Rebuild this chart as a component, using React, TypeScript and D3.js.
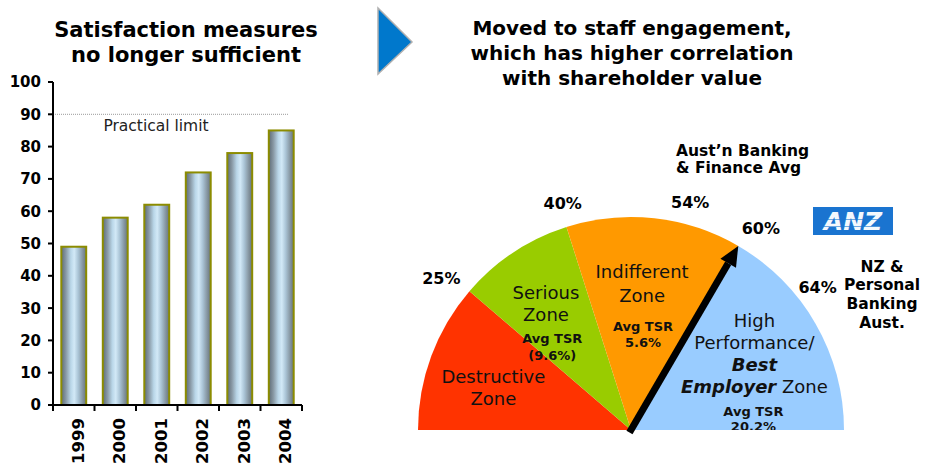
import React from "react";
import * as d3 from "d3";

const years = ["1999", "2000", "2001", "2002", "2003", "2004"];
const scores = [49, 58, 62, 72, 78, 85];
const yTicks = [0, 10, 20, 30, 40, 50, 60, 70, 80, 90, 100];
const practicalLimit = 90;

const zoneBounds = [0, 0.226, 0.402, 0.668, 1];
const zoneColors = ["#FF3300", "#99CC00", "#FF9900", "#99CCFF"];
const percentLabels = [
  { text: "25%", pos: 0.215, r: 243 },
  { text: "40%", pos: 0.407, r: 237 },
  { text: "54%", pos: 0.581, r: 235 },
  { text: "60%", pos: 0.682, r: 240 },
  { text: "64%", pos: 0.792, r: 235 },
];
const anzPosition = 0.668;

const FONT = "DejaVu Sans, Verdana, sans-serif";

export default function App() {
  // ---------- bar chart ----------
  const x = d3.scaleBand<string>().domain(years).range([53, 302]).paddingInner(0.4).paddingOuter(0.2);
  const y = d3.scaleLinear().domain([0, 100]).range([405, 82]);
  const bw = x.bandwidth();
  const step = x.step();

  // ---------- gauge ----------
  const cx = 631, cy = 430, R = 213;
  const ang = d3.scaleLinear().domain([0, 1]).range([-Math.PI / 2, Math.PI / 2]);
  const arc = d3.arc<any>().innerRadius(0).outerRadius(R);
  const polar = (f: number, r: number) => {
    const a = ang(f);
    return [cx + r * Math.sin(a), cy - r * Math.cos(a)];
  };

  const [tx, ty] = polar(anzPosition, R);
  const dx = (tx - cx) / R, dy = (ty - cy) / R;
  const headLen = 20, headHalf = 9;
  const sx = cx - 3 * dx, sy = cy - 3 * dy;
  const bx = tx - headLen * dx, by = ty - headLen * dy;
  const px = -dy, py = dx;

  const zoneText = (f: number, r: number) => polar(f, r);

  const [dX, dY] = zoneText(0.095, 144);
  const [sX, sY] = zoneText(0.311, 152);
  const [s2X, s2Y] = zoneText(0.26, 115);
  const [iX, iY] = zoneText(0.524, 147);
  const [i2X, i2Y] = zoneText(0.54, 96);
  const [hX, hY] = zoneText(0.824, 145);
  const [h2X, h2Y] = zoneText(0.969, 123);

  return (
    <svg width={930} height={463} style={{ position: "absolute", left: 0, top: 0, background: "#fff" }} fontFamily={FONT}>
      <defs>
        <linearGradient id="cyl" x1="0" x2="1" y1="0" y2="0">
          <stop offset="0%" stopColor="#5d6c77" />
          <stop offset="18%" stopColor="#8797a3" />
          <stop offset="38%" stopColor="#b9d6e8" />
          <stop offset="52%" stopColor="#d2e9f7" />
          <stop offset="68%" stopColor="#aac4d6" />
          <stop offset="86%" stopColor="#8595a0" />
          <stop offset="100%" stopColor="#66747e" />
        </linearGradient>
        <clipPath id="gclip">
          <rect x={0} y={0} width={930} height={cy} />
        </clipPath>
      </defs>

      {/* left title */}
      <text x={186} y={37} textAnchor="middle" fontSize={21} fontWeight="bold">Satisfaction measures</text>
      <text x={186} y={62} textAnchor="middle" fontSize={21} fontWeight="bold">no longer sufficient</text>

      {/* practical limit */}
      <line x1={55} x2={288} y1={y(practicalLimit)} y2={y(practicalLimit)} stroke="#9a9a9a" strokeWidth={1} strokeDasharray="1,1" />
      <text x={156} y={131} textAnchor="middle" fontSize={15.5} fill="#222">Practical limit</text>

      {/* bars */}
      {years.map((yr, i) => (
        <rect key={yr} x={x(yr)!} y={y(scores[i])} width={bw} height={y(0) - y(scores[i])}
          fill="url(#cyl)" stroke="#8c8c00" strokeWidth={2} />
      ))}

      {/* y axis */}
      <line x1={53} x2={53} y1={y(100)} y2={y(0)} stroke="#000" strokeWidth={2} />
      {yTicks.map((t) => (
        <g key={t}>
          <line x1={48} x2={53} y1={y(t)} y2={y(t)} stroke="#000" strokeWidth={2} />
          <text x={41} y={y(t)} dy="0.36em" textAnchor="end" fontSize={15} fontWeight="bold">{t}</text>
        </g>
      ))}

      {/* x axis */}
      <line x1={53} x2={302} y1={y(0)} y2={y(0)} stroke="#000" strokeWidth={2} />
      {d3.range(years.length + 1).map((k) => {
        const xx = 53 + k * step;
        return <line key={k} x1={xx} x2={xx} y1={y(0)} y2={y(0) + 6} stroke="#000" strokeWidth={2} />;
      })}
      {years.map((yr) => {
        const xc = x(yr)! + bw / 2 + 4;
        return (
          <text key={yr} transform={`translate(${xc},418) rotate(-90)`} textAnchor="end" dy="0.36em"
            fontSize={16.5} fontWeight="bold">{yr}</text>
        );
      })}

      {/* blue arrow */}
      <polygon points="378,8 412,42 378,74" fill="#0078CC" stroke="#b0b0b0" strokeWidth={1.5} />

      {/* right title */}
      <text x={632} y={35} textAnchor="middle" fontSize={20} fontWeight="bold">Moved to staff engagement,</text>
      <text x={632} y={60} textAnchor="middle" fontSize={20} fontWeight="bold">which has higher correlation</text>
      <text x={632} y={85} textAnchor="middle" fontSize={20} fontWeight="bold">with shareholder value</text>

      {/* gauge zones */}
      <g transform={`translate(${cx},${cy})`}>
        {zoneColors.map((c, i) => (
          <path key={i} d={arc({ startAngle: ang(zoneBounds[i]), endAngle: ang(zoneBounds[i + 1]) })!} fill={c} />
        ))}
      </g>

      {/* percent labels */}
      {percentLabels.map((p) => {
        const [lx, ly] = polar(p.pos, p.r);
        return (
          <text key={p.text} x={lx} y={ly} dy="0.36em" textAnchor="middle" fontSize={16} fontWeight="bold">{p.text}</text>
        );
      })}

      {/* zone labels */}
      <g fontSize={18} textAnchor="middle" fill="#111">
        <text x={dX} y={dY - 11} dy="0.36em">Destructive</text>
        <text x={dX} y={dY + 11} dy="0.36em">Zone</text>
        <text x={sX} y={sY - 11} dy="0.36em">Serious</text>
        <text x={sX} y={sY + 11} dy="0.36em">Zone</text>
        <text x={iX} y={iY - 12} dy="0.36em">Indifferent</text>
        <text x={iX} y={iY + 12} dy="0.36em">Zone</text>
        <text x={hX} y={hY - 33} dy="0.36em">High</text>
        <text x={hX} y={hY - 11} dy="0.36em">Performance/</text>
        <text x={hX} y={hY + 11} dy="0.36em" fontWeight="bold" fontStyle="italic">Best</text>
        <text x={hX} y={hY + 33} dy="0.36em">
          <tspan fontWeight="bold" fontStyle="italic">Employer</tspan> Zone
        </text>
      </g>
      <g fontSize={13} textAnchor="middle" fontWeight="bold" fill="#111" clipPath="url(#gclip)">
        <text x={s2X} y={s2Y - 8} dy="0.36em">Avg TSR</text>
        <text x={s2X} y={s2Y + 9} dy="0.36em">(9.6%)</text>
        <text x={i2X} y={i2Y - 8} dy="0.36em">Avg TSR</text>
        <text x={i2X} y={i2Y + 8} dy="0.36em">5.6%</text>
        <text x={h2X} y={h2Y - 7} dy="0.36em">Avg TSR</text>
        <text x={h2X} y={h2Y + 8} dy="0.36em">20.2%</text>
      </g>

      {/* black arrow */}
      <line x1={sx} y1={sy} x2={bx} y2={by} stroke="#000" strokeWidth={7} />
      <polygon points={`${tx},${ty} ${bx + px * headHalf},${by + py * headHalf} ${bx - px * headHalf},${by - py * headHalf}`} fill="#000" />

      {/* annotations */}
      <text x={676} y={150} dy="0.36em" fontSize={15.5} fontWeight="bold">Aust’n Banking</text>
      <text x={676} y={167} dy="0.36em" fontSize={15.5} fontWeight="bold">&amp; Finance Avg</text>
      <g fontSize={15.5} fontWeight="bold" textAnchor="middle">
        <text x={882} y={266} dy="0.36em">NZ &amp;</text>
        <text x={882} y={284} dy="0.36em">Personal</text>
        <text x={882} y={303} dy="0.36em">Banking</text>
        <text x={882} y={322} dy="0.36em">Aust.</text>
      </g>

      {/* ANZ logo */}
      <rect x={813} y={207} width={80} height={28} fill="#1a74d0" />
      <text x={853} y={221} dy="0.36em" textAnchor="middle" fontSize={25} fontWeight="bold" fontStyle="italic" fill="#f4f8fd">ANZ</text>
      <line x1={820} x2={890} y1={219.5} y2={219.5} stroke="#1a74d0" strokeWidth={1} opacity={0.6} />
      <line x1={820} x2={890} y1={226.5} y2={226.5} stroke="#1a74d0" strokeWidth={1} opacity={0.6} />
    </svg>
  );
}
